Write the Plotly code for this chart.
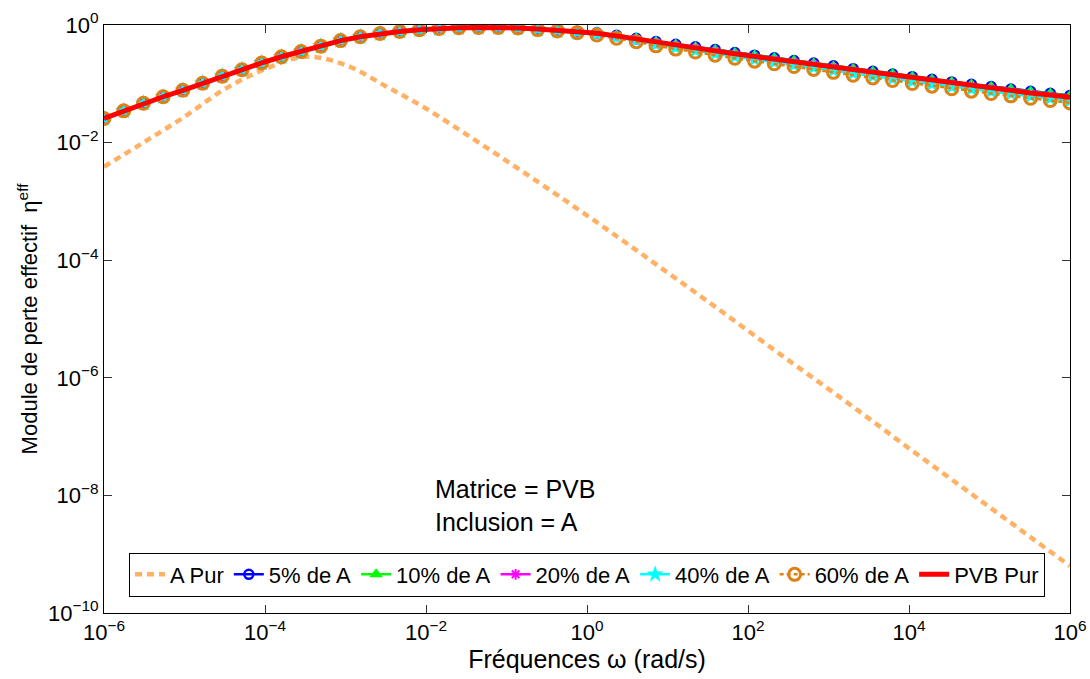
import numpy as np
import plotly.graph_objects as go

# ---- data (log10 of the values) ----
# composite curves: 50 log-spaced frequencies between 1e-6 and 1e6
freq_exp_50 = list(np.linspace(-6, 6, 50))
# A Pur: one point per half decade
freq_exp_a = [-6.0, -5.5, -5.0, -4.5, -4.0, -3.5, -3.0, -2.5, -2.0, -1.5, -1.0, -0.5,
              0.0, 0.5, 1.0, 1.5, 2.0, 2.5, 3.0, 3.5, 4.0, 4.5, 5.0, 5.5, 6.0]

log_a_pur = [-2.41, -1.99, -1.56, -1.09, -0.75, -0.54, -0.68, -1.04, -1.42, -1.86, -2.31, -2.77,
             -3.24, -3.72, -4.21, -4.70, -5.20, -5.70, -6.19, -6.69, -7.20, -7.70, -8.20, -8.70, -9.20]

log_pvb = [-1.59, -1.46, -1.33, -1.22, -1.11, -0.99, -0.87, -0.76, -0.645, -0.54,
           -0.45, -0.36, -0.265, -0.20, -0.145, -0.11, -0.08, -0.06, -0.048, -0.043,
           -0.043, -0.05, -0.068, -0.085, -0.11, -0.14, -0.185, -0.24, -0.295, -0.345,
           -0.39, -0.44, -0.49, -0.535, -0.58, -0.625, -0.67, -0.72, -0.77, -0.815,
           -0.86, -0.905, -0.95, -0.995, -1.035, -1.075, -1.115, -1.155, -1.19, -1.23]

log_5 = [-1.59, -1.46, -1.33, -1.22, -1.11, -0.99, -0.87, -0.76, -0.645, -0.54,
         -0.45, -0.36, -0.265, -0.20, -0.145, -0.11, -0.08, -0.06, -0.048, -0.043,
         -0.043, -0.05, -0.068, -0.082, -0.105, -0.133, -0.175, -0.225, -0.282, -0.328,
         -0.372, -0.418, -0.468, -0.513, -0.558, -0.603, -0.648, -0.695, -0.743, -0.788,
         -0.833, -0.878, -0.923, -0.968, -1.008, -1.048, -1.088, -1.126, -1.161, -1.198]

log_10 = [-1.59, -1.46, -1.33, -1.22, -1.11, -0.99, -0.87, -0.76, -0.645, -0.54,
          -0.45, -0.36, -0.265, -0.20, -0.145, -0.11, -0.08, -0.06, -0.048, -0.043,
          -0.043, -0.05, -0.068, -0.085, -0.105, -0.135, -0.175, -0.225, -0.285, -0.33,
          -0.375, -0.42, -0.47, -0.515, -0.56, -0.605, -0.65, -0.70, -0.745, -0.79,
          -0.835, -0.88, -0.925, -0.97, -1.01, -1.05, -1.09, -1.13, -1.165, -1.20]

log_20 = [-1.59, -1.46, -1.33, -1.22, -1.11, -0.99, -0.87, -0.76, -0.645, -0.54,
          -0.45, -0.36, -0.265, -0.20, -0.145, -0.11, -0.08, -0.06, -0.048, -0.043,
          -0.043, -0.05, -0.068, -0.085, -0.115, -0.145, -0.19, -0.245, -0.305, -0.355,
          -0.40, -0.45, -0.50, -0.545, -0.59, -0.635, -0.68, -0.73, -0.78, -0.825,
          -0.87, -0.92, -0.965, -1.01, -1.05, -1.09, -1.13, -1.17, -1.205, -1.245]

log_40 = [-1.59, -1.46, -1.33, -1.22, -1.11, -0.99, -0.87, -0.76, -0.645, -0.54,
          -0.45, -0.36, -0.265, -0.20, -0.145, -0.11, -0.08, -0.06, -0.048, -0.043,
          -0.043, -0.05, -0.073, -0.095, -0.125, -0.16, -0.21, -0.265, -0.33, -0.385,
          -0.435, -0.49, -0.54, -0.585, -0.63, -0.68, -0.725, -0.775, -0.825, -0.87,
          -0.915, -0.96, -1.005, -1.05, -1.09, -1.13, -1.17, -1.21, -1.25, -1.29]

log_60 = [-1.59, -1.46, -1.33, -1.22, -1.11, -0.99, -0.87, -0.76, -0.645, -0.54,
          -0.45, -0.36, -0.265, -0.20, -0.145, -0.11, -0.08, -0.06, -0.048, -0.043,
          -0.043, -0.05, -0.078, -0.10, -0.13, -0.17, -0.225, -0.285, -0.355, -0.41,
          -0.46, -0.515, -0.565, -0.615, -0.66, -0.705, -0.755, -0.805, -0.855, -0.90,
          -0.945, -0.995, -1.04, -1.085, -1.125, -1.165, -1.205, -1.245, -1.285, -1.325]

x_tick_exp = [-6, -4, -2, 0, 2, 4, 6]
y_tick_exp = [-10, -8, -6, -4, -2, 0]

series_names = ["A Pur", "5% de A", "10% de A", "20% de A", "40% de A", "60% de A", "PVB Pur"]

FONT = "Liberation Sans, Arial, Helvetica"


def p10(a):
    return [10.0 ** v for v in a]


def sup(e):
    return "10<sup>" + (str(e).replace("-", "\u2212")) + "</sup>"


x50 = p10(freq_exp_50)
xa = p10(freq_exp_a)

fig = go.Figure()

fig.add_trace(go.Scatter(
    x=xa, y=p10(log_a_pur), mode="lines", name=series_names[0],
    line=dict(color="#FFB266", width=4.5, dash="7px,5px", shape="spline")))

fig.add_trace(go.Scatter(
    x=x50, y=p10(log_5), mode="lines+markers", name=series_names[1],
    line=dict(color="#0000FF", width=2.5),
    marker=dict(symbol="circle-open", size=9, color="#0000FF", line=dict(width=2.5))))

fig.add_trace(go.Scatter(
    x=x50, y=p10(log_10), mode="lines+markers", name=series_names[2],
    line=dict(color="#00FF00", width=2.5),
    marker=dict(symbol="triangle-up", size=12, color="#00FF00")))

fig.add_trace(go.Scatter(
    x=x50, y=p10(log_20), mode="lines+markers", name=series_names[3],
    line=dict(color="#FF00FF", width=2.5),
    marker=dict(symbol="asterisk-open", size=9, color="#FF00FF", line=dict(width=2, color="#FF00FF"))))

fig.add_trace(go.Scatter(
    x=x50, y=p10(log_40), mode="lines+markers", name=series_names[4],
    line=dict(color="#00FFFF", width=2.5),
    marker=dict(symbol="star", size=13, color="#00FFFF")))

fig.add_trace(go.Scatter(
    x=x50, y=p10(log_60), mode="lines+markers", name=series_names[5],
    line=dict(color="#DC8214", width=2.5, dash="4px,3px"),
    marker=dict(symbol="circle-open", size=12, color="#DC8214", line=dict(width=3))))

fig.add_trace(go.Scatter(
    x=x50, y=p10(log_pvb), mode="lines", name=series_names[6],
    line=dict(color="#FF0000", width=5)))

fig.add_annotation(
    x=0.341, y=0.182, xref="paper", yref="paper", xanchor="left", yanchor="middle",
    text="Matrice = PVB<br>Inclusion = A", showarrow=False, align="left",
    font=dict(size=25, color="black", family=FONT))

axis_common = dict(
    type="log", showgrid=False, zeroline=False, showline=True, linecolor="black",
    linewidth=1, mirror="ticks", ticks="inside", ticklen=8, tickcolor="#333",
    automargin=False,
    tickfont=dict(size=22, color="black", family=FONT))

fig.update_xaxes(
    **axis_common, range=[-6, 6],
    tickvals=p10(x_tick_exp), ticktext=[sup(e) for e in x_tick_exp],
    title=dict(text="Fréquences \u03c9 (rad/s)", standoff=2,
               font=dict(size=25, color="black", family=FONT)))

fig.update_yaxes(
    **axis_common, range=[-10, 0],
    tickvals=p10(y_tick_exp), ticktext=[sup(e) for e in y_tick_exp],
    title=dict(text="Module de perte effectif  \u03b7<sup>eff</sup>", standoff=4,
               font=dict(size=22, color="black", family=FONT)))

fig.update_layout(
    width=1090, height=679,
    margin=dict(l=104, r=20, t=25, b=66, autoexpand=False),
    paper_bgcolor="white", plot_bgcolor="white",
    font=dict(family=FONT, color="black"),
    legend=dict(orientation="h", x=0.5, xanchor="center", y=0.028, yanchor="bottom",
                bgcolor="white", bordercolor="black", borderwidth=1,
                font=dict(size=22, color="black", family=FONT),
                itemwidth=30, tracegroupgap=0),
    showlegend=True)

fig.write_html("out.html", config={"displayModeBar": False},
               post_script="document.body.style.margin='0px';")
